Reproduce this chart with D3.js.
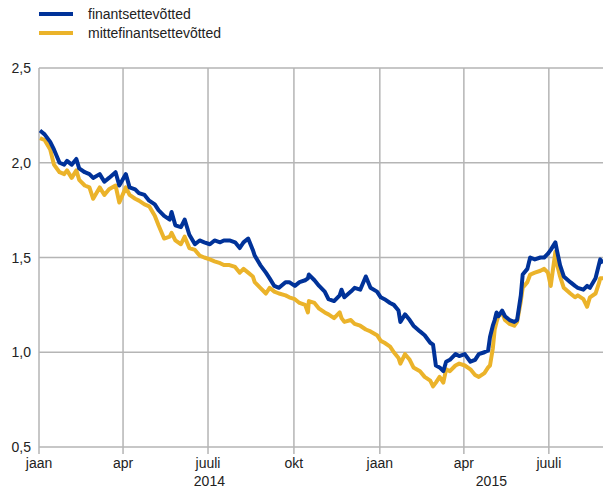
<!DOCTYPE html>
<html>
<head>
<meta charset="utf-8">
<script src="https://cdn.jsdelivr.net/npm/d3@7"></script>
<style>
  body { margin: 0; background: #fff; }
  text { font-family: 'Liberation Sans', Arial, sans-serif; font-size: 14px; fill: #222; }
</style>
</head>
<body>
<script>
// dates (approx.)
let dates = [
  '2014-01-02', '2014-01-07', '2014-01-13', '2014-01-17', '2014-01-23', '2014-01-28', '2014-01-31', '2014-02-05',
  '2014-02-10', '2014-02-13', '2014-02-19', '2014-02-24', '2014-02-28', '2014-03-07', '2014-03-12', '2014-03-17',
  '2014-03-24', '2014-03-28', '2014-04-04', '2014-04-08', '2014-04-14', '2014-04-18', '2014-04-24', '2014-04-29',
  '2014-05-05', '2014-05-09', '2014-05-15', '2014-05-21', '2014-05-23', '2014-05-27', '2014-06-02', '2014-06-06',
  '2014-06-11', '2014-06-17', '2014-06-22', '2014-06-27', '2014-07-03', '2014-07-08', '2014-07-14', '2014-07-18',
  '2014-07-24', '2014-07-30', '2014-08-04', '2014-08-08', '2014-08-13', '2014-08-18', '2014-08-20', '2014-08-26',
  '2014-09-01', '2014-09-05', '2014-09-10', '2014-09-15', '2014-09-22', '2014-09-26', '2014-10-02', '2014-10-07',
  '2014-10-13', '2014-10-16', '2014-10-17', '2014-10-23', '2014-10-28', '2014-11-03', '2014-11-07', '2014-11-13',
  '2014-11-19', '2014-11-21', '2014-11-24', '2014-12-01', '2014-12-05', '2014-12-11', '2014-12-17', '2014-12-22',
  '2014-12-29', '2015-01-02', '2015-01-06', '2015-01-12', '2015-01-16', '2015-01-21', '2015-01-23', '2015-01-28',
  '2015-02-02', '2015-02-06', '2015-02-13', '2015-02-18', '2015-02-24', '2015-02-27', '2015-03-02', '2015-03-06',
  '2015-03-10', '2015-03-13', '2015-03-17', '2015-03-23', '2015-03-27', '2015-04-02', '2015-04-08', '2015-04-13',
  '2015-04-17', '2015-04-23', '2015-04-27', '2015-04-29', '2015-05-02', '2015-05-04', '2015-05-06', '2015-05-08',
  '2015-05-12', '2015-05-15', '2015-05-20', '2015-05-25', '2015-05-28', '2015-06-01', '2015-06-03', '2015-06-08',
  '2015-06-11', '2015-06-16', '2015-06-22', '2015-06-26', '2015-06-30', '2015-07-03', '2015-07-08', '2015-07-10',
  '2015-07-13', '2015-07-17', '2015-07-24', '2015-07-29', '2015-08-01', '2015-08-07', '2015-08-11', '2015-08-14',
  '2015-08-20', '2015-08-24', '2015-08-25', '2015-08-28'
]

// finantsettevõtted
let finVals = [
  2.17, 2.15, 2.11, 2.07, 2.00, 1.99, 2.01, 1.99,
  2.02, 1.97, 1.95, 1.94, 1.92, 1.94, 1.90, 1.92,
  1.95, 1.88, 1.94, 1.87, 1.86, 1.84, 1.83, 1.80,
  1.78, 1.75, 1.72, 1.70, 1.74, 1.67, 1.66, 1.70,
  1.62, 1.57, 1.59, 1.58, 1.57, 1.59, 1.58, 1.59,
  1.59, 1.58, 1.55, 1.58, 1.60, 1.54, 1.51, 1.46,
  1.42, 1.39, 1.35, 1.34, 1.37, 1.37, 1.35, 1.37,
  1.38, 1.39, 1.41, 1.38, 1.35, 1.32, 1.28, 1.27,
  1.30, 1.33, 1.29, 1.32, 1.34, 1.33, 1.40, 1.34,
  1.32, 1.29, 1.28, 1.26, 1.25, 1.22, 1.16, 1.20,
  1.17, 1.14, 1.11, 1.09, 1.05, 1.04, 0.93, 0.92,
  0.90, 0.95, 0.96, 0.99, 0.98, 0.99, 0.95, 0.96,
  0.99, 1.00, 1.01, 1.08, 1.14, 1.17, 1.21, 1.19,
  1.22, 1.19, 1.17, 1.16, 1.17, 1.30, 1.41, 1.44,
  1.50, 1.49, 1.50, 1.50, 1.52, 1.54, 1.58, 1.53,
  1.46, 1.40, 1.37, 1.35, 1.34, 1.33, 1.35, 1.34,
  1.39, 1.47, 1.49, 1.47
]

// mittefinantsettevõtted
let nonFinVals = [
  2.13, 2.12, 2.07, 1.99, 1.95, 1.94, 1.96, 1.92,
  1.96, 1.91, 1.88, 1.87, 1.81, 1.87, 1.83, 1.86,
  1.88, 1.79, 1.87, 1.83, 1.81, 1.80, 1.78, 1.77,
  1.72, 1.67, 1.60, 1.61, 1.63, 1.59, 1.57, 1.61,
  1.55, 1.54, 1.51, 1.50, 1.49, 1.48, 1.47, 1.46,
  1.46, 1.45, 1.42, 1.44, 1.42, 1.40, 1.37, 1.34,
  1.31, 1.34, 1.32, 1.31, 1.30, 1.29, 1.28, 1.26,
  1.25, 1.21, 1.27, 1.26, 1.23, 1.21, 1.20, 1.18,
  1.21, 1.18, 1.16, 1.17, 1.15, 1.14, 1.12, 1.11,
  1.09, 1.06, 1.05, 1.03, 1.00, 0.97, 0.94, 0.99,
  0.96, 0.92, 0.90, 0.87, 0.85, 0.82, 0.84, 0.87,
  0.84, 0.91, 0.90, 0.93, 0.94, 0.93, 0.91, 0.88,
  0.87, 0.89, 0.92, 0.93, 1.02, 1.12, 1.16, 1.19,
  1.21, 1.17, 1.15, 1.14, 1.16, 1.27, 1.34, 1.37,
  1.41, 1.42, 1.43, 1.44, 1.42, 1.35, 1.53, 1.46,
  1.40, 1.34, 1.31, 1.29, 1.30, 1.28, 1.24, 1.29,
  1.31, 1.37, 1.39, 1.39
]

let seriesNames = ['finantsettevõtted', 'mittefinantsettevõtted']
let yTicks = [0.5, 1.0, 1.5, 2.0, 2.5]
let monthLabels = ['jaan', 'apr', 'juuli', 'okt']
let years = ['2014', '2015']

let colors = ['#003299', '#ebb32a']

let parseDate = d3.timeParse('%Y-%m-%d')
let data = [finVals, nonFinVals].map(function (vals) {
  return vals.map(function (v, i) { return { date: parseDate(dates[i]), value: v } })
})

let W = 603, H = 490
let plot = { left: 39, right: 603, top: 68, bottom: 447 }

let x = d3.scaleTime()
  .domain([new Date(2014, 0, 1), new Date(2015, 7, 28)])
  .range([plot.left, plot.right])

let y = d3.scaleLinear()
  .domain([0.5, 2.5])
  .range([plot.bottom, plot.top])

let svg = d3.select('body')
  .append('svg')
  .attr('width', W)
  .attr('height', H)

// horizontal grid + y labels
svg.append('g')
  .selectAll('line')
  .data(yTicks)
  .enter().append('line')
    .attr('x1', plot.left)
    .attr('x2', plot.right)
    .attr('y1', d => y(d))
    .attr('y2', d => y(d))
    .attr('stroke', '#b5b5b5')
    .attr('stroke-width', 1.5)

svg.append('g')
  .selectAll('text')
  .data(yTicks)
  .enter().append('text')
    .attr('x', 31)
    .attr('y', d => y(d) + 5)
    .attr('text-anchor', 'end')
    .text(d => d3.format('.1f')(d).replace('.', ','))

// vertical grid (quarters)
let qTicks = x.ticks(d3.timeMonth.every(3))
svg.append('g')
  .selectAll('line')
  .data(qTicks)
  .enter().append('line')
    .attr('x1', d => x(d))
    .attr('x2', d => x(d))
    .attr('y1', plot.top)
    .attr('y2', plot.bottom + 7)
    .attr('stroke', '#b5b5b5')
    .attr('stroke-width', 1.5)

svg.append('g')
  .selectAll('text')
  .data(qTicks)
  .enter().append('text')
    .attr('x', d => x(d))
    .attr('y', 468)
    .attr('text-anchor', 'middle')
    .text(d => monthLabels[d.getMonth() / 3])

// year labels centred on the visible part of each year
svg.append('g')
  .selectAll('text')
  .data(years)
  .enter().append('text')
    .attr('x', function (d) {
      let a = Math.max(x(new Date(+d, 0, 1)), plot.left)
      let b = Math.min(x(new Date(+d + 1, 0, 1)), plot.right)
      return (a + b) / 2
    })
    .attr('y', 486)
    .attr('text-anchor', 'middle')
    .text(d => d)

// the lines
let line = d3.line()
  .x(d => x(d.date))
  .y(d => y(d.value))

svg.append('clipPath').attr('id', 'clip')
  .append('rect')
  .attr('x', plot.left).attr('y', 0)
  .attr('width', plot.right - plot.left).attr('height', H)

svg.append('g')
  .attr('clip-path', 'url(#clip)')
  .selectAll('path')
  .data(data.slice().reverse())
  .enter().append('path')
    .attr('d', line)
    .attr('fill', 'none')
    .attr('stroke', (d, i) => colors[1 - i])
    .attr('stroke-width', 4)
    .attr('stroke-linejoin', 'round')

// legend
let legend = svg.append('g')
  .selectAll('g')
  .data(seriesNames)
  .enter().append('g')
    .attr('transform', (d, i) => 'translate(39,' + (14 + i * 19) + ')')

legend.append('line')
  .attr('x1', 0).attr('x2', 34)
  .attr('stroke', (d, i) => colors[i])
  .attr('stroke-width', 4)

legend.append('text')
  .attr('x', 49)
  .attr('y', 5)
  .text(d => d)
</script>
</body>
</html>
